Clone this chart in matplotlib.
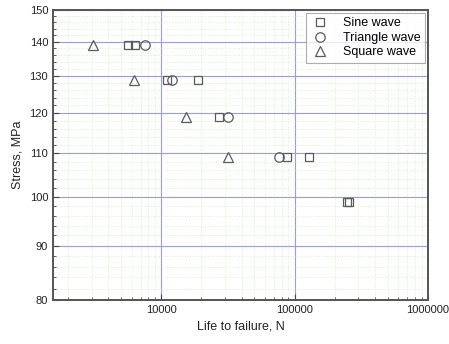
import matplotlib
matplotlib.use("Agg")
import matplotlib.pyplot as plt
from matplotlib.ticker import FixedLocator, NullFormatter, FixedFormatter, LogLocator

plt.rcParams["font.family"] = ["Liberation Sans", "DejaVu Sans"]

# данные
sine_n = [5600, 6300, 11000, 19000, 27000, 87000, 129000, 246000, 254000]
sine_s = [139, 139, 129, 129, 119, 109, 109, 99, 99]
tri_n = [7600, 12100, 31500, 77000]
tri_s = [139, 129, 119, 109]
sq_n = [3050, 6200, 15400, 31600]
sq_s = [139, 129, 119, 109]

y_major = [80, 90, 100, 110, 120, 130, 140, 150]
y_minor = [v for v in range(80, 151, 2) if v % 10 != 0]
x_major = [10000, 100000, 1000000]

fig = plt.figure(figsize=(4.49, 3.44), dpi=100)
ax = fig.add_axes([0.118, 0.128, 0.835, 0.843])

mk = dict(linestyle="none", markerfacecolor="none", markeredgecolor="#5a5a5a",
          markeredgewidth=0.9, zorder=3)
ax.plot(sine_n, sine_s, marker="s", markersize=6.2, label="Sine wave", **mk)
ax.plot(tri_n, tri_s, marker="o", markersize=6.8, label="Triangle wave", **mk)
ax.plot(sq_n, sq_s, marker="^", markersize=7.5, label="Square wave", **mk)

ax.set_xscale("log")
ax.set_yscale("log")
ax.set_xlim(1540, 1000000)
ax.set_ylim(80, 150)

ax.xaxis.set_major_locator(FixedLocator(x_major))
ax.xaxis.set_major_formatter(FixedFormatter([str(v) for v in x_major]))
ax.xaxis.set_minor_locator(LogLocator(base=10, subs=range(2, 10)))
ax.xaxis.set_minor_formatter(NullFormatter())
ax.yaxis.set_major_locator(FixedLocator(y_major))
ax.yaxis.set_major_formatter(FixedFormatter([str(v) for v in y_major]))
ax.yaxis.set_minor_locator(FixedLocator(y_minor))
ax.yaxis.set_minor_formatter(NullFormatter())

ax.grid(which="minor", color="#dcefd0", linestyle=":", linewidth=0.7)
ax.grid(which="major", color="#9a9aec", linestyle="-", linewidth=0.8)
ax.set_axisbelow(True)

ax.tick_params(which="both", direction="in", top=False, right=False,
               colors="#444444", labelcolor="#222222", labelsize=8)
ax.tick_params(which="major", length=4)
ax.tick_params(which="minor", length=2.5)
for s in ax.spines.values():
    s.set_color("#555555")
    s.set_linewidth(1.4)

ax.set_xlabel("Life to failure, N", fontsize=9, color="#222222")
ax.set_ylabel("Stress, MPa", fontsize=9, color="#222222")

leg = ax.legend(loc="upper right", fontsize=9, frameon=True, fancybox=False,
                edgecolor="#999999", borderaxespad=0.25, borderpad=0.35,
                handletextpad=1.0, labelspacing=0.2, handlelength=1.6)
leg.get_frame().set_linewidth(0.8)

fig.savefig("out.png", dpi=100)
